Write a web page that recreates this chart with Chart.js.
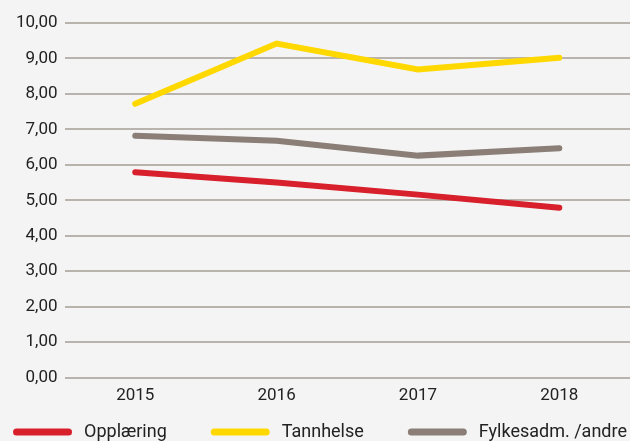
<!DOCTYPE html>
<html>
<head>
<meta charset="utf-8">
<script src="https://cdn.jsdelivr.net/npm/chart.js@4"></script>
<style>
    html, body { margin: 0; padding: 0; background: #f4f4f4; }
    #wrap { width: 630px; height: 441px; }
</style>
</head>
<body>
<div id="wrap"><canvas id="lineChart"></canvas></div>
<script>
const years = ["2015", "2016", "2017", "2018"];
const seriesNames = ["Opplæring", "Tannhelse", "Fylkesadm. /andre"];
const opplaering = [5.79, 5.50, 5.16, 4.79];
const tannhelse = [7.72, 9.42, 8.69, 9.02];
const fylkesadm = [6.82, 6.68, 6.26, 6.47];
const seriesColors = ["#d7202b", "#ffd800", "#8a7e77"];

const fontFamily = "Roboto, 'Noto Sans', sans-serif";

function makeSet(label, data, color) {
    return {
        label: label,
        data: data,
        borderColor: color,
        backgroundColor: color,
        borderWidth: 6,
        borderCapStyle: "round",
        borderJoinStyle: "miter",
        pointRadius: 0,
        pointHoverRadius: 0,
        tension: 0,
        fill: false
    };
}

// legend drawn as one row of thick rounded line swatches, like the original
const lineLegend = {
    id: "lineLegend",
    afterDraw(chart, args, opts) {
        const ctx = chart.ctx;
        const sets = chart.data.datasets;
        ctx.save();
        ctx.font = `${opts.fontSize}px ${fontFamily}`;
        const widths = sets.map(ds => opts.boxWidth + opts.textGap + ctx.measureText(ds.label).width);
        const total = widths.reduce((a, b) => a + b, 0) + opts.itemGap * (sets.length - 1);
        let x = opts.centerX - total / 2;
        sets.forEach((ds, i) => {
            ctx.strokeStyle = ds.borderColor;
            ctx.lineWidth = opts.lineWidth;
            ctx.lineCap = "round";
            ctx.beginPath();
            ctx.moveTo(x + opts.lineWidth / 2, opts.y);
            ctx.lineTo(x + opts.boxWidth - opts.lineWidth / 2, opts.y);
            ctx.stroke();
            ctx.fillStyle = opts.color;
            ctx.textBaseline = "middle";
            ctx.fillText(ds.label, x + opts.boxWidth + opts.textGap, opts.y);
            x += widths[i] + opts.itemGap;
        });
        ctx.restore();
    }
};

document.addEventListener("DOMContentLoaded", () => {
    const ctx = document.getElementById("lineChart");
    new Chart(ctx, {
        type: "line",
        data: {
            labels: years,
            datasets: [
                makeSet(seriesNames[0], opplaering, seriesColors[0]),
                makeSet(seriesNames[1], tannhelse, seriesColors[1]),
                makeSet(seriesNames[2], fylkesadm, seriesColors[2])
            ]
        },
        plugins: [lineLegend],
        options: {
            responsive: true,
            maintainAspectRatio: false,
            animation: false,
            layout: { padding: { top: 23, left: 9, right: 0, bottom: 27 } },
            plugins: {
                tooltip: { enabled: false },
                legend: { display: false },
                lineLegend: {
                    y: 432,
                    centerX: 320,
                    boxWidth: 59,
                    lineWidth: 7,
                    textGap: 12,
                    itemGap: 44,
                    fontSize: 18,
                    color: "#222222"
                }
            },
            scales: {
                x: {
                    offset: true,
                    grid: { display: false, drawTicks: false },
                    border: { display: false },
                    ticks: {
                        padding: 8,
                        color: "#222222",
                        font: { family: fontFamily, size: 17 }
                    }
                },
                y: {
                    min: 0,
                    max: 10,
                    grid: { color: "#b8b3ad", lineWidth: 2, drawTicks: false },
                    border: { display: false },
                    ticks: {
                        stepSize: 1,
                        padding: 7,
                        color: "#222222",
                        font: { family: fontFamily, size: 17 },
                        callback: v => v.toFixed(2).replace(".", ",")
                    }
                }
            }
        }
    });
});
</script>
</body>
</html>
